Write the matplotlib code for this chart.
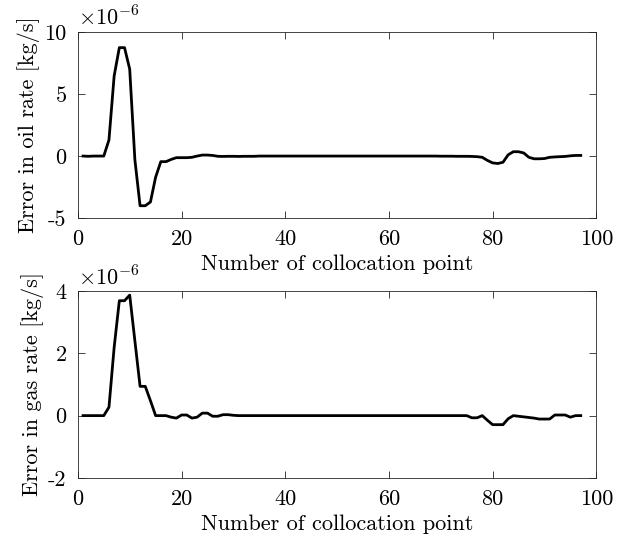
import matplotlib
matplotlib.use('Agg')
import matplotlib.pyplot as plt
import numpy as np

# Computer Modern look, MATLAB-style hyphen minus
plt.rcParams['font.family'] = 'serif'
plt.rcParams['font.serif'] = ['cmr10']
plt.rcParams['mathtext.fontset'] = 'cm'
plt.rcParams['axes.unicode_minus'] = False

# errors in units of 1e-6 kg/s, collocation points 1..97
points = list(range(1, 98))

oil_err = [0, -0.02, 0, 0, 0, 1.3, 6.45, 8.73, 8.73, 7.0,
           -0.3, -4.0, -4.0, -3.7, -1.7, -0.45, -0.45, -0.27, -0.13, -0.13,
           -0.13, -0.1, 0.0, 0.08, 0.08, 0.05, -0.02, -0.03, -0.02, -0.02,
           -0.03, -0.02, -0.02, -0.02, 0, 0, 0, 0, 0, 0,
           0, 0, 0, 0, 0, 0, 0, 0, 0, 0,
           0, 0, 0, 0, 0, 0, 0, 0, 0, 0,
           0, 0, 0, 0, 0, 0, 0, 0, 0, -0.01,
           -0.01, -0.01, -0.02, -0.02, -0.02, -0.03, -0.05, -0.1, -0.35, -0.55,
           -0.6, -0.5, 0.1, 0.35, 0.35, 0.25, -0.1, -0.22, -0.22, -0.2,
           -0.1, -0.07, -0.05, -0.03, 0.02, 0.05, 0.05]

gas_err = [0, 0, 0, 0, 0, 0.27, 2.19, 3.69, 3.69, 3.87,
           2.4, 0.94, 0.94, 0.48, 0, 0, 0, -0.05, -0.08, 0.02,
           0.02, -0.08, -0.05, 0.08, 0.08, -0.02, -0.02, 0.03, 0.03, 0.01,
           0, 0, 0, 0, 0, 0, 0, 0, 0, 0,
           0, 0, 0, 0, 0, 0, 0, 0, 0, 0,
           0, 0, 0, 0, 0, 0, 0, 0, 0, 0,
           0, 0, 0, 0, 0, 0, 0, 0, 0, 0,
           0, 0, 0, 0, 0, -0.07, -0.07, 0.0, -0.15, -0.29,
           -0.29, -0.29, -0.1, 0, -0.02, -0.04, -0.06, -0.08, -0.11, -0.11,
           -0.11, 0.02, 0.02, 0.02, -0.05, 0, 0]

oil_ticks = [-5, 0, 5, 10]
gas_ticks = [-2, 0, 2, 4]
x_ticks = [0, 20, 40, 60, 80, 100]

fs = 16
grey = (0.15, 0.15, 0.15)


def styleAx(ax, yticks, ylabel):
    ax.set_xlim(0, 100)
    ax.set_ylim(yticks[0], yticks[-1])
    ax.set_xticks(x_ticks)
    ax.set_xticklabels([str(t) for t in x_ticks])
    ax.set_yticks(yticks)
    ax.set_yticklabels([str(t) for t in yticks])
    ax.tick_params(direction='in', top=True, right=True, length=5,
                   width=0.6, color=grey, labelsize=fs, pad=8)
    for sp in ax.spines.values():
        sp.set_linewidth(0.6)
        sp.set_color(grey)
    ax.set_xlabel('Number of collocation point', fontsize=fs, labelpad=4)
    ax.set_ylabel(ylabel, fontsize=fs, labelpad=3)
    ax.text(0.0, 1.01, r'$\times 10^{-6}$', transform=ax.transAxes,
            fontsize=fs, ha='left', va='bottom')


fig = plt.figure(figsize=(6.33, 5.40), dpi=100)
ax1 = fig.add_axes([0.123, 0.596, 0.819, 0.345])
ax2 = fig.add_axes([0.123, 0.115, 0.819, 0.346])

ax1.plot(points, oil_err, color='black', linewidth=2)
styleAx(ax1, oil_ticks, 'Error in oil rate [kg/s]')

ax2.plot(points, gas_err, color='black', linewidth=2)
styleAx(ax2, gas_ticks, 'Error in gas rate [kg/s]')

plt.savefig('out.png', dpi=100)
